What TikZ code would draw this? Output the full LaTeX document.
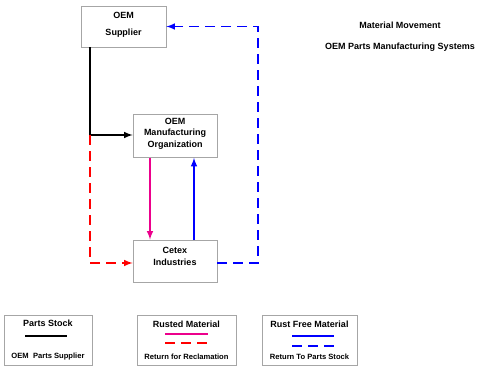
\documentclass[tikz,border=0pt]{standalone}
\usepackage{fontspec}
\setmainfont{Liberation Sans}
\tikzset{
  unit/.style={draw=gray!70,line width=0.8pt,fill=white,minimum width=84pt,minimum height=42pt,
    align=center,font=\bfseries\fontsize{9}{11.5}\selectfont},
  legbox/.style={draw=gray!70,line width=0.8pt,minimum height=50pt,align=center,
    font=\bfseries\fontsize{9}{11}\selectfont},
  flow/.style={line width=1.9pt,-latex},
  dashes/.style={dash pattern=on 10pt off 6pt},
  sample/.style={line width=1.9pt},
}
\newcommand{\legnote}[1]{{\fontsize{7.6}{9}\selectfont #1}}
\begin{document}
\begin{tikzpicture}[x=1pt,y=-1pt]
\useasboundingbox (0,0) rectangle (477,369);
% heading
\node[font=\bfseries\fontsize{9}{11}\selectfont] (heading) at (400,25) {Material Movement};
\node[font=\bfseries\fontsize{9}{11}\selectfont] (systems) at (400,47) {OEM Parts Manufacturing Systems};
% units
\node[unit,minimum width=85pt,minimum height=41pt,text depth=6pt] (supplier) at (123.5,26.5) {OEM\\[5.5pt]Supplier};
\node[unit,text depth=7pt] (mfg) at (175,136) {OEM\\Manufacturing\\Organization};
\node[unit,text depth=9pt] (cetex) at (175,261) {Cetex\\Industries};
\coordinate (split) at (90,135);
\coordinate (turn) at (258,26.5);
% material flows
\draw[flow] (split |- supplier.south) -- (split) -- (split -| mfg.west);
\draw[flow,dashes,red] (split) |- ([yshift=-2pt]cetex.west);
\draw[flow,magenta] ([xshift=-25pt]mfg.south) -- ([xshift=-25pt]cetex.north);
\draw[flow,blue] ([xshift=19pt]cetex.north) -- ([xshift=19pt]mfg.south);
\draw[flow,dashes,blue] ([yshift=-2pt]cetex.east) -| (turn) -- (supplier.east);
% legend
\node[legbox,minimum width=88pt] (stock) at (48,340) {Parts Stock\\[21pt]\legnote{OEM\ \ Parts Supplier}};
\node[legbox,minimum width=99pt] (rusted) at (186.5,340) {Rusted Material\\[21pt]\legnote{Return for Reclamation}};
\node[legbox,minimum width=95pt] (rustfree) at (309.5,340) {Rust Free Material\\[21pt]\legnote{Return To Parts Stock}};
\draw[sample] (25,336) -- (67,336);
\draw[sample,magenta] (165,334) -- (208,334);
\draw[sample,red,dashes] (165,343) -- (208,343);
\draw[sample,blue] (292,336) -- (334,336);
\draw[sample,blue,dashes] (292,346) -- (334,346);
\end{tikzpicture}
\end{document}
